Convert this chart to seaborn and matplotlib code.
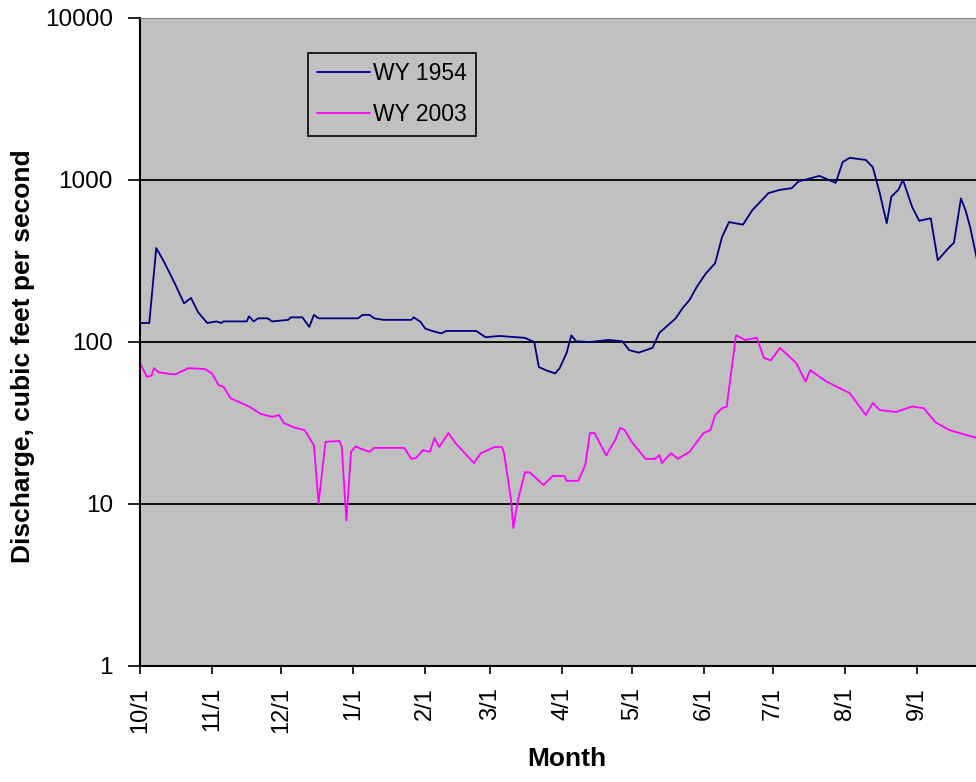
"""
Daily discharge, water years 1954 and 2003
------------------------------------------
Log-scale line chart of two water years (Oct 1 - Sep 30) redrawn with seaborn.
"""
import pandas as pd
import matplotlib
matplotlib.use("Agg")
import matplotlib.pyplot as plt
import seaborn as sns
from matplotlib.ticker import FixedLocator, NullLocator, FixedFormatter

# Day of water year (0 = Oct 1) and discharge in cfs
days_1954 = [0, 4, 7, 10, 15, 19, 22, 25, 29, 33, 35, 36, 46, 47, 49, 51, 55, 57,
             64, 65, 70, 73, 75, 77, 94, 96, 99, 101, 105, 117, 118, 121, 123, 126,
             130, 132, 145, 149, 155, 166, 170, 172, 175, 179, 181, 184, 186, 188,
             194, 202, 208, 211, 215, 221, 224, 231, 234, 237, 240, 244, 248, 251,
             254, 260, 264, 271, 276, 281, 284, 293, 300, 303, 306, 313, 316, 319,
             322, 324, 327, 329, 333, 336, 341, 344, 349, 351, 354, 356, 358, 361]
flow_1954 = [131, 131, 380, 320, 230, 173, 187, 153, 131, 134, 131, 134, 134, 144,
             134, 140, 140, 134, 137, 142, 142, 124, 147, 140, 140, 147, 147, 140,
             137, 137, 142, 133, 121, 117, 113, 117, 117, 107, 109, 106, 100, 70, 67,
             64, 69, 86, 110, 101, 100, 103, 101, 89, 86, 92, 114, 140, 162, 182, 218,
             265, 306, 445, 550, 530, 650, 830, 870, 890, 980, 1060, 960, 1290, 1370,
             1330, 1200, 830, 540, 790, 870, 1000, 680, 560, 580, 320, 385, 410, 770,
             650, 510, 320]

days_2003 = [0, 3, 5, 6, 8, 15, 21, 28, 31, 34, 36, 39, 42, 47, 52, 57, 60, 62, 67,
             71, 75, 77, 80, 86, 87, 89, 91, 93, 95, 99, 101, 114, 117, 119, 122, 125,
             127, 129, 133, 136, 144, 147, 153, 156, 157, 160, 161, 163, 166, 168,
             174, 178, 183, 184, 189, 192, 194, 196, 201, 205, 207, 209, 212, 218,
             222, 224, 225, 229, 232, 237, 243, 246, 248, 251, 253, 257, 261, 266,
             269, 272, 276, 283, 287, 289, 296, 306, 313, 316, 319, 326, 333, 338,
             343, 349, 361]
flow_2003 = [74, 61, 62, 69, 65, 63, 69, 68, 64, 54, 53, 45, 43, 40, 36, 34.5, 35.4,
             31.6, 29.5, 28.6, 23, 10.1, 24.2, 24.5, 22.5, 7.9, 21, 22.7, 22, 21,
             22.2, 22.2, 19, 19.2, 21.5, 21, 25.5, 22.5, 27.4, 23.8, 17.9, 20.6, 22.5,
             22.5, 20.6, 10.6, 7.1, 10.6, 15.7, 15.7, 13.1, 14.9, 14.9, 13.9, 13.9,
             17.4, 27.4, 27.4, 20, 24.9, 29.5, 28.6, 24.2, 19, 19, 20, 17.9, 20.6, 19,
             21, 27.4, 28.6, 35.4, 39, 40, 110, 103, 106, 80, 77, 92, 74, 57, 67, 57,
             48.4, 35.4, 42, 38, 37, 40, 39, 32, 28.6, 25.5]

month_days = [0, 31, 61, 92, 123, 151, 182, 212, 243, 273, 304, 335]
month_labels = ["10/1", "11/1", "12/1", "1/1", "2/1", "3/1",
                "4/1", "5/1", "6/1", "7/1", "8/1", "9/1"]
y_ticks = [1, 10, 100, 1000, 10000]
y_labels = ["1", "10", "100", "1000", "10000"]

df = pd.concat([
    pd.DataFrame({"day": days_1954, "flow": flow_1954, "series": "WY 1954"}),
    pd.DataFrame({"day": days_2003, "flow": flow_2003, "series": "WY 2003"}),
])

sns.set_style("ticks", {"axes.facecolor": "#c0c0c0", "axes.edgecolor": "black",
                        "text.color": "black", "axes.labelcolor": "black"})
plt.rcParams["font.family"] = ["Liberation Sans", "DejaVu Sans"]

fig = plt.figure(figsize=(9.76, 7.82), dpi=100)
ax = fig.add_axes([140 / 976, 1 - 666 / 782, 836 / 976, 648 / 782])

sns.lineplot(data=df, x="day", y="flow", hue="series",
             palette={"WY 1954": "#000080", "WY 2003": "#ff00ff"},
             estimator=None, sort=False, linewidth=1.3, ax=ax)

ax.set_yscale("log")
ax.set_ylim(1, 10000)
ax.set_xlim(0, 360.5)
ax.yaxis.set_major_locator(FixedLocator(y_ticks))
ax.yaxis.set_major_formatter(FixedFormatter(y_labels))
ax.yaxis.set_minor_locator(NullLocator())
ax.set_xticks(month_days)
ax.set_xticklabels(month_labels, rotation=90)

ax.yaxis.grid(True, color="black", linewidth=1.3)
ax.set_axisbelow(True)
ax.tick_params(axis="y", direction="out", length=8.5, width=1.2,
               labelsize=17.5, pad=11, colors="black")
ax.tick_params(axis="x", direction="out", length=6, width=1.2,
               labelsize=17, pad=9, colors="black")

for side in ["left", "bottom"]:
    ax.spines[side].set_linewidth(1.5)
ax.spines["top"].set_color("#808080")
ax.spines["right"].set_visible(False)

ax.set_xlabel("Month", fontsize=19, fontweight="bold", color="black")
ax.set_ylabel("Discharge, cubic feet per second", fontsize=19, fontweight="bold",
              color="black")
ax.xaxis.set_label_coords(0.51, -0.125)
ax.yaxis.set_label_coords(-0.126, 0.478)

leg = ax.legend(loc="upper left", bbox_to_anchor=(0.201, 0.946), borderaxespad=0,
                fancybox=False, edgecolor="black", framealpha=1, fontsize=16.5,
                handlelength=2.3, handletextpad=0.15, borderpad=0.4, labelspacing=0.8,
                labelcolor="black")
leg.get_frame().set_linewidth(1.2)

fig.savefig("out.png", dpi=100)
